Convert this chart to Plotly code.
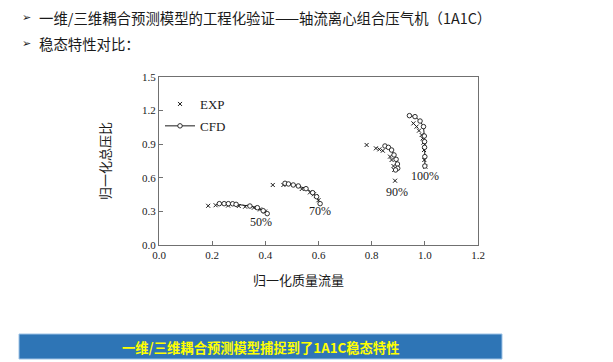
import plotly.graph_objects as go

# ---------------- data ----------------
speed_labels = ["50%", "70%", "90%", "100%"]
label_x = [0.385, 0.605, 0.895, 1.0]
label_y = [0.205, 0.30, 0.475, 0.62]

exp50_x = [0.185, 0.213, 0.26, 0.30, 0.324, 0.357, 0.38, 0.399]
exp50_y = [0.350, 0.355, 0.352, 0.348, 0.342, 0.333, 0.318, 0.298]
cfd50_x = [0.227, 0.245, 0.261, 0.277, 0.29, 0.342, 0.37, 0.392, 0.407]
cfd50_y = [0.369, 0.369, 0.369, 0.368, 0.363, 0.348, 0.333, 0.306, 0.280]

exp70_x = [0.428, 0.468, 0.537, 0.568, 0.583, 0.590, 0.600]
exp70_y = [0.536, 0.536, 0.500, 0.470, 0.453, 0.437, 0.400]
cfd70_x = [0.474, 0.487, 0.505, 0.524, 0.553, 0.578, 0.593, 0.606]
cfd70_y = [0.551, 0.545, 0.536, 0.527, 0.503, 0.467, 0.431, 0.369]

exp90_x = [0.781, 0.816, 0.829, 0.842, 0.869, 0.875, 0.882, 0.885, 0.888]
exp90_y = [0.893, 0.863, 0.854, 0.842, 0.789, 0.759, 0.705, 0.670, 0.574]
cfd90_x = [0.850, 0.863, 0.875, 0.884, 0.892, 0.897, 0.898, 0.890]
cfd90_y = [0.884, 0.872, 0.848, 0.804, 0.765, 0.723, 0.685, 0.670]

exp100_x = [0.957, 0.969, 0.978, 0.988, 0.992, 0.995, 0.997, 0.998, 1.002]
exp100_y = [1.086, 1.057, 1.021, 0.982, 0.952, 0.914, 0.848, 0.759, 0.699]
cfd100_x = [0.942, 0.963, 0.982, 0.995, 0.998, 0.999, 0.999, 1.000, 1.000]
cfd100_y = [1.155, 1.146, 1.107, 1.057, 0.973, 0.923, 0.872, 0.789, 0.705]

x_ticks = [0.0, 0.2, 0.4, 0.6, 0.8, 1.0, 1.2]
y_ticks = [0.0, 0.3, 0.6, 0.9, 1.2, 1.5]

title1 = "一维/三维耦合预测模型的工程化验证——轴流离心组合压气机（1A1C）"
title2 = "稳态特性对比："
banner = "一维/三维耦合预测模型捕捉到了1A1C稳态特性"
x_title = "归一化质量流量"
y_title = "归一化总压比"


def join(*arrs):
    out = []
    for i, a in enumerate(arrs):
        if i:
            out.append(None)
        out.extend(a)
    return out


# ---------------- layout geometry ----------------
# the page body has an 8px margin, so the figure is drawn 8px smaller and
# all reference pixel positions are shifted by that offset
OFF = 8
W, H = 613 - OFF, 362 - OFF
L, R, T, B = 159 - OFF, 478 - OFF, 77 - OFF, 245 - OFF


def pxx(p):
    return (p - OFF - L) / (R - L)


def pxy(p):
    return (B - (p - OFF)) / (B - T)


serif = "Liberation Serif, Times New Roman, serif"
sans = "Noto Sans CJK SC, DejaVu Sans, sans-serif"
ink = "#1a1a1a"

fig = go.Figure()
fig.add_trace(go.Scatter(
    x=join(exp50_x, exp70_x, exp90_x, exp100_x),
    y=join(exp50_y, exp70_y, exp90_y, exp100_y),
    mode="markers", name="EXP", legendgroup="a",
    marker=dict(symbol="x-thin", size=4, line=dict(width=1, color=ink), color=ink),
))
fig.add_trace(go.Scatter(
    x=join(cfd50_x, cfd70_x, cfd90_x, cfd100_x),
    y=join(cfd50_y, cfd70_y, cfd90_y, cfd100_y),
    mode="lines+markers", name="CFD", legendgroup="b", connectgaps=False,
    line=dict(color=ink, width=1),
    marker=dict(symbol="circle", size=4.5, line=dict(width=0.9, color=ink), color="white"),
))

for t, xv, yv in zip(speed_labels, label_x, label_y):
    fig.add_annotation(x=xv, y=yv, text=t, showarrow=False, xref="x", yref="y",
                       xanchor="center", yanchor="middle",
                       font=dict(family=serif, size=12, color=ink))


def note(px, py, text, font, xanchor="center", angle=0):
    fig.add_annotation(x=pxx(px), y=pxy(py), xref="paper", yref="paper", text=text,
                       showarrow=False, xanchor=xanchor, yanchor="middle",
                       textangle=angle, font=font, borderpad=0)


# header text
bullet_font = dict(family="DejaVu Sans", size=11, color=ink)
head_font = dict(family=sans, size=14.4, color=ink)
note(21, 18, "➢", bullet_font, "left")
note(38, 18, title1, head_font, "left")
note(21, 43, "➢", bullet_font, "left")
note(38, 43, title2, head_font, "left")

# axis titles
note(298, 279, x_title, dict(family=sans, size=13, color=ink))
note(104, 161, y_title, dict(family=sans, size=13, color=ink), angle=-90)

# banner
fig.add_shape(type="rect", xref="paper", yref="paper",
              x0=pxx(19), x1=pxx(502), y0=pxy(359), y1=pxy(334),
              fillcolor="#2E75B6", line=dict(color="#9DC3E6", width=1))
note(260, 347, "<b>" + banner + "</b>", dict(family=sans, size=13.3, color="#FFFF00"))

axis_common = dict(showline=True, linecolor="#707070", linewidth=1, mirror=True,
                   ticks="inside", ticklen=4, tickcolor="#707070", showgrid=False,
                   zeroline=False, tickfont=dict(family=serif, size=11, color=ink))
fig.update_xaxes(range=[0, 1.2], tickvals=x_ticks, tickformat=".1f", **axis_common)
fig.update_yaxes(range=[0, 1.5], tickvals=y_ticks, tickformat=".1f", **axis_common)

fig.update_layout(
    width=W, height=H, autosize=False,
    margin=dict(l=L, r=W - R, t=T, b=H - B),
    paper_bgcolor="white", plot_bgcolor="white",
    showlegend=True,
    legend=dict(x=pxx(160), y=pxy(89), xanchor="left", yanchor="top",
                bgcolor="rgba(0,0,0,0)", font=dict(family=serif, size=13, color=ink),
                traceorder="grouped", tracegroupgap=2, itemwidth=30),
)

fig.write_html("out.html")
